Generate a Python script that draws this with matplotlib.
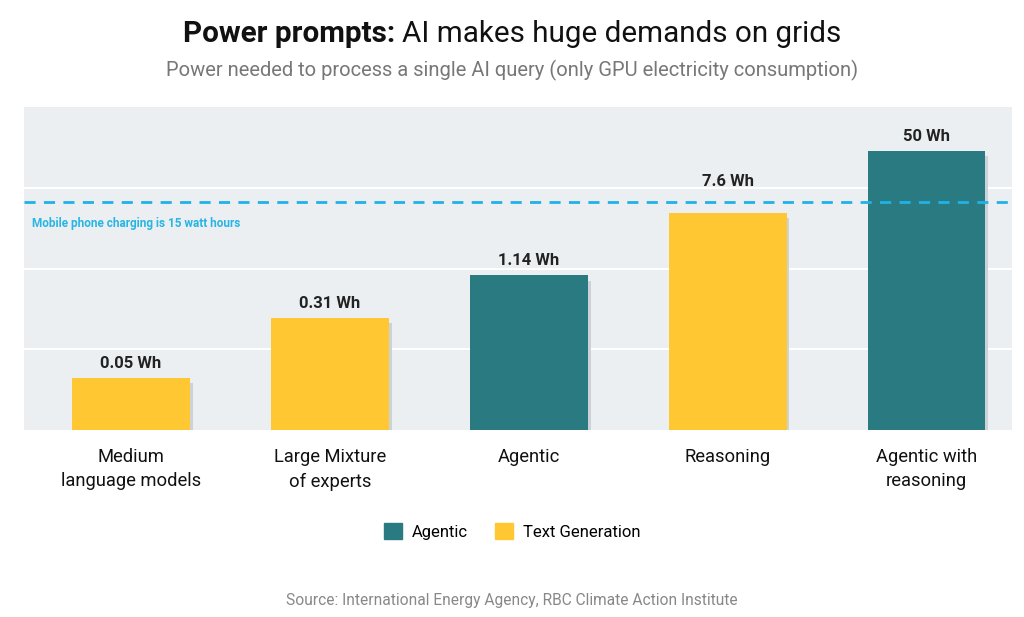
import matplotlib.pyplot as plt
import matplotlib.patches as mpatches
import numpy as np

categories = ["Medium\nlanguage models", "Large Mixture\nof experts", "Agentic",
              "Reasoning", "Agentic with\nreasoning"]
values = [0.05, 0.31, 1.14, 7.6, 50]
labels = ["0.05 Wh", "0.31 Wh", "1.14 Wh", "7.6 Wh", "50 Wh"]
kinds = ["Text Generation", "Text Generation", "Agentic", "Text Generation", "Agentic"]
# the reference line is labelled 15 Wh but drawn at about this level on the scale
phone_line_level = 10.6

colors = {"Agentic": "#2a7b81", "Text Generation": "#ffc832"}

plt.rcParams['font.family'] = ['Roboto', 'DejaVu Sans']

fig = plt.figure(figsize=(10.24, 6.17), dpi=100)
ax = fig.add_axes([0.0234, 0.303, 0.9646, 0.5236])
ax.set_facecolor("#ebeff2")

lo, hi = -1.988, 2.279
ax.set_yscale("log")
ax.set_ylim(10 ** lo, 10 ** hi)
ax.set_xlim(-0.538, 4.427)

# grid at quarter heights
ax.set_yticks([10 ** (lo + k * (hi - lo) / 4) for k in (1, 2, 3)])
ax.yaxis.set_minor_locator(plt.NullLocator())
ax.grid(axis="y", color="white", linewidth=1.5)
ax.set_axisbelow(True)
ax.tick_params(axis="y", left=False, labelleft=False)

x = np.arange(len(values))
w = 0.59
# soft shadow behind bars
for xi, v in zip(x, values):
    ax.bar(xi + 0.015, v * 0.85, width=w, color="#cdd2d6", zorder=2)
ax.bar(x, values, width=w, color=[colors[k] for k in kinds], zorder=3)

for xi, v, lab in zip(x, values, labels):
    # labels that would sit on the dashed line get lifted above it
    if v < phone_line_level < v * 2:
        anchor, off = phone_line_level, 9
    else:
        anchor, off = v, 5
    ax.annotate(lab, (xi, anchor), xytext=(0, off), textcoords="offset points",
                ha="center", va="bottom", fontsize=12, fontweight="bold", color="#222222")

ax.axhline(phone_line_level, color="#1fb2e8", linewidth=2, linestyle=(0, (4, 3)), zorder=4)
ax.text(0.008, 0.64, "Mobile phone charging is 15 watt hours", transform=ax.transAxes,
        fontsize=8.5, fontweight="bold", color="#29b5e3", va="center")

ax.set_xticks(x)
ax.set_xticklabels(categories, fontsize=13.2, color="#111111", linespacing=1.45)
ax.tick_params(axis="x", length=0, pad=13)
for s in ax.spines.values():
    s.set_visible(False)

# title in two weights
t1 = fig.text(0.5, 0.945, "Power prompts: ", fontsize=21.3, fontweight="bold",
              ha="right", va="center", color="#111111")
t2 = fig.text(0.5, 0.945, "AI makes huge demands on grids", fontsize=21.3,
              ha="left", va="center", color="#111111")
fig.canvas.draw()
r = fig.canvas.get_renderer()
w1 = t1.get_window_extent(r).width
w2 = t2.get_window_extent(r).width
shift = (w1 - w2) / 2 / fig.bbox.width
t1.set_x(0.5 + shift)
t2.set_x(0.5 + shift)

fig.text(0.5, 0.885, "Power needed to process a single AI query (only GPU electricity consumption)",
         fontsize=14.5, ha="center", va="center", color="#777777")

handles = [mpatches.Patch(color=colors["Agentic"], label="Agentic"),
           mpatches.Patch(color=colors["Text Generation"], label="Text Generation")]
fig.legend(handles=handles, loc="center", bbox_to_anchor=(0.5, 0.139), ncol=2,
           frameon=False, fontsize=12, handlelength=1.1, handleheight=1.1,
           columnspacing=1.6, handletextpad=0.6)

fig.text(0.5, 0.027, "Source: International Energy Agency, RBC Climate Action Institute",
         fontsize=11.2, ha="center", va="center", color="#888888")

fig.savefig("out.png", dpi=100, facecolor="white")
